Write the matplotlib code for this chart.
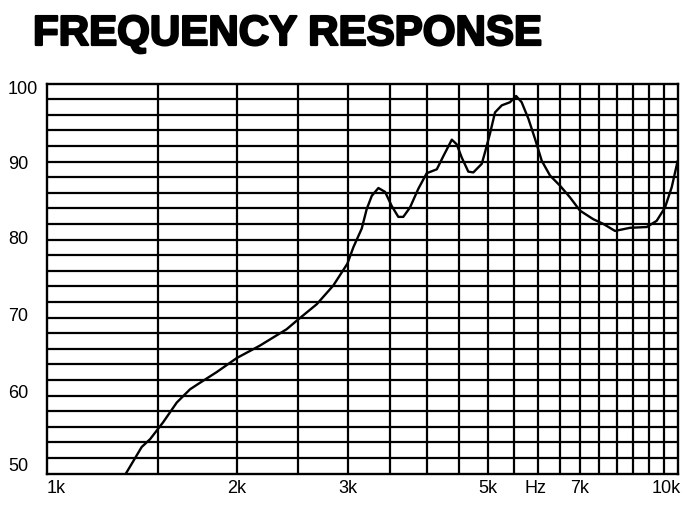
import matplotlib
matplotlib.use("Agg")
import matplotlib.pyplot as plt
import matplotlib.patheffects as pe
from matplotlib.transforms import offset_copy

# response curve (Hz, dB)
freq = [1334, 1413, 1457, 1529, 1606, 1686, 1738, 1858, 1999, 2176, 2399,
        2489, 2677, 2844, 2994, 3060, 3155, 3213, 3273, 3353, 3436, 3520,
        3606, 3672, 3763, 3879, 4000, 4150, 4251, 4384, 4463, 4546, 4656,
        4742, 4890, 4949, 5040, 5133, 5261, 5422, 5543, 5657, 5797,
        5940, 6087, 6274, 6507, 6749, 7000, 7348, 7622, 7954, 8403, 8932,
        9262, 9547, 9784, 10000]
level = [50.0, 53.4, 54.4, 56.6, 59.1, 60.8, 61.5, 63.0, 64.8, 66.4, 68.5,
         69.6, 71.7, 74.1, 76.9, 79.0, 81.4, 83.9, 85.6, 86.6, 86.1, 84.3,
         82.9, 82.9, 84.1, 86.5, 88.5, 89.0, 90.7, 92.8, 92.2, 90.5, 88.7,
         88.6, 89.7, 91.2, 93.6, 96.3, 97.2, 97.6, 98.4, 97.6, 95.5,
         92.9, 90.1, 88.2, 86.9, 85.4, 83.7, 82.6, 82.0, 81.1, 81.5, 81.6,
         82.4, 84.1, 86.7, 90.1]

grid_freqs = [1500, 2000, 2500, 3000, 3500, 4000, 4500, 5000, 5500, 6000,
              6500, 7000, 7500, 8000, 8500, 9000, 9500]
grid_db = list(range(52, 100, 2))

x_labels = ["1k", "2k", "3k", "5k", "Hz", "7k", "10k"]
x_label_pos = [1000, 2000, 3000, 5000, 5950, 7000, 10000]
y_labels = ["100", "90", "80", "70", "60", "50"]
y_label_pos = [99.3, 89.7, 80.1, 70.2, 60.4, 51.0]

fig = plt.figure(figsize=(7, 5.1), dpi=100)
ax = fig.add_axes([47 / 700, 35.5 / 510, 630.7 / 700, 390 / 510])

ax.set_xscale("log")
ax.set_xlim(1000, 10000)
ax.set_ylim(50, 100)

for f in grid_freqs:
    ax.axvline(f, color="black", lw=1.6, zorder=1)
for d in grid_db:
    ax.axhline(d, color="black", lw=1.6, zorder=1)

ax.plot(freq, level, color="black", lw=1.7, zorder=3,
        solid_joinstyle="round", solid_capstyle="round")

ax.set_xticks([])
ax.set_yticks([])
ax.minorticks_off()
for s in ax.spines.values():
    s.set_linewidth(1.7)

tick_font = dict(family="Liberation Sans", size=13, color="black")

# x labels sit just below the frame
xtrans = offset_copy(ax.get_xaxis_transform(), fig=fig, x=0, y=-14, units="dots")
for lab, pos in zip(x_labels, x_label_pos):
    ha = "center"
    dx = 0
    if pos == 1000:
        ha = "left"
    elif pos == 10000:
        ha = "right"
        dx = 3
    t = offset_copy(xtrans, fig=fig, x=dx, y=0, units="dots")
    ax.text(pos, 0, lab, transform=t, ha=ha, va="center", **tick_font)

# y labels at the far left of the figure
for lab, pos in zip(y_labels, y_label_pos):
    y_fig = fig.transFigure.inverted().transform(ax.transData.transform((1000, pos)))[1]
    fig.text(8 / 700, y_fig, lab, ha="left", va="center", **tick_font)

fig.text(33 / 700, 1 - 35 / 510, "FREQUENCY RESPONSE", ha="left", va="center",
         family="Liberation Sans", weight="bold", size=30.3, color="black",
         path_effects=[pe.withStroke(linewidth=1.6, foreground="black")])

fig.savefig("out.png", dpi=100, facecolor="white")
